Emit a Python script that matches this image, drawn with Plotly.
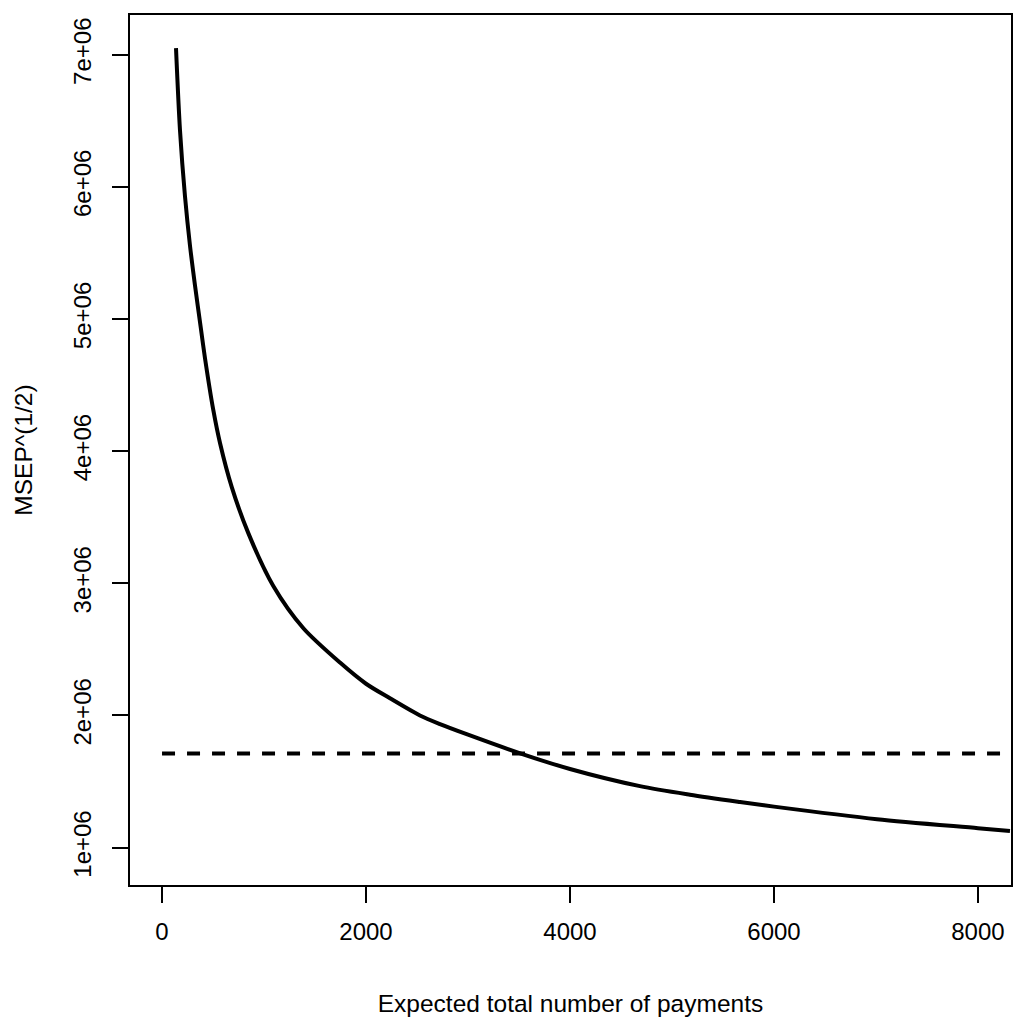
import plotly.graph_objects as go

# Data
n_payments = [137, 176, 225, 275, 324, 379, 422, 503, 569, 683, 846, 1091, 1386,
              1745, 2000, 2235, 2529, 2725, 3000, 3526, 4000, 4686, 5176, 5667, 6000,
              7010, 8000, 8314]
msep_sqrt = [7.05e6, 6.43e6, 5.93e6, 5.55e6, 5.25e6, 4.94e6, 4.70e6, 4.31e6, 4.06e6,
             3.73e6, 3.38e6, 2.98e6, 2.66e6, 2.40e6, 2.24e6, 2.13e6, 2.00e6, 1.935e6,
             1.855e6, 1.71e6, 1.595e6, 1.465e6, 1.40e6, 1.345e6, 1.31e6, 1.215e6,
             1.147e6, 1.125e6]
ref_x = [0, 8600]
ref_y = [1.712e6, 1.712e6]

x_ticks = [0, 2000, 4000, 6000, 8000]
y_ticks = [1e6, 2e6, 3e6, 4e6, 5e6, 6e6, 7e6]
y_tick_labels = ["1e+06", "2e+06", "3e+06", "4e+06", "5e+06", "6e+06", "7e+06"]

FONT = "Liberation Sans, Arial, Helvetica, sans-serif"

fig = go.Figure()
fig.add_trace(go.Scatter(x=n_payments, y=msep_sqrt, mode="lines",
                         line=dict(color="black", width=4, shape="spline", smoothing=0.8),
                         showlegend=False))
fig.add_trace(go.Scatter(x=ref_x, y=ref_y, mode="lines",
                         line=dict(color="black", width=4, dash="13px,12px"),
                         showlegend=False))

axis_common = dict(showline=True, mirror=True, linecolor="black", linewidth=2,
                   ticks="outside", ticklen=16, tickwidth=2, tickcolor="black",
                   showgrid=False, zeroline=False,
                   tickfont=dict(family=FONT, size=24, color="black"))

fig.update_xaxes(range=[-314, 8324], tickvals=x_ticks, ticktext=[str(v) for v in x_ticks],
                 ticklabelstandoff=8,
                 title=dict(text="Expected total number of payments",
                            font=dict(family=FONT, size=24.5, color="black"), standoff=51),
                 **axis_common)
fig.update_yaxes(range=[0.717e6, 7.301e6], tickvals=y_ticks, ticktext=y_tick_labels,
                 tickangle=-90, ticklabelstandoff=11,
                 title=dict(text="MSEP^(1/2)",
                            font=dict(family=FONT, size=24.5, color="black"), standoff=30),
                 **axis_common)

# page body has an 8px margin: size the figure so the plot box lands where the reference's does
fig.update_layout(width=1008, height=1015,
                  margin=dict(l=122, r=5, t=7, b=138, autoexpand=False),
                  plot_bgcolor="white", paper_bgcolor="white")

fig.write_html("out.html")
